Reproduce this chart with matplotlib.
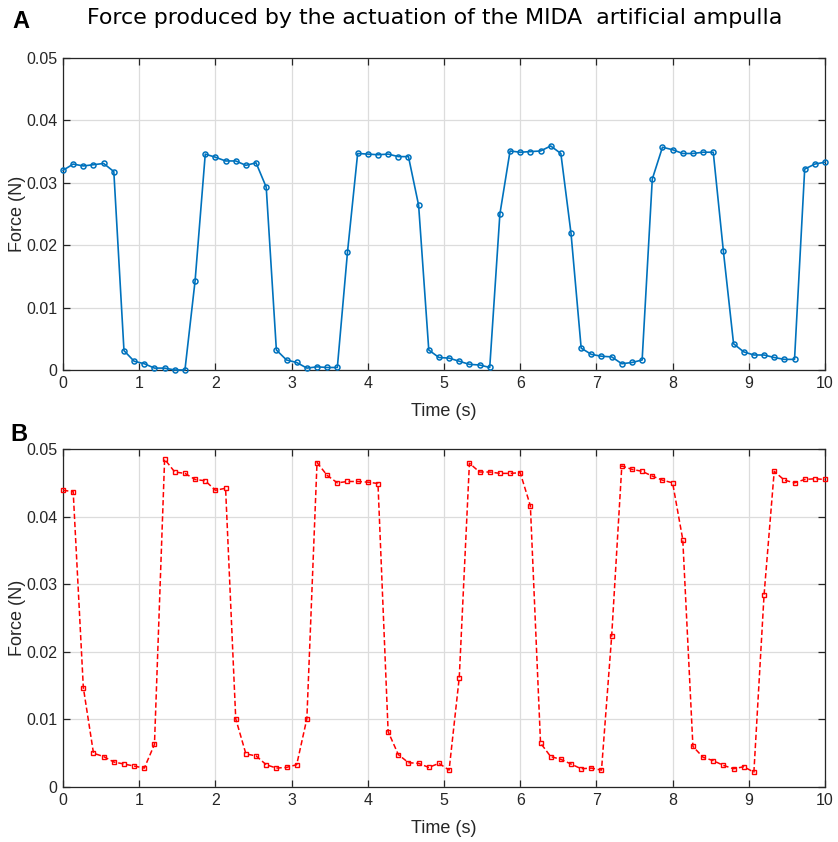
import numpy as np
import matplotlib
matplotlib.use("Agg")
import matplotlib.pyplot as plt

# muestreo uniforme, 76 muestras en 10 s
n_muestras = 76
duracion = 10.0
tiempo = np.linspace(0, duracion, n_muestras)

# panel A - fuerza (N)
fuerza_a = [
    0.0320, 0.0330, 0.0327, 0.0329, 0.0331, 0.0318, 0.0031, 0.0014, 0.0010, 0.0003,
    0.0003, 0.0000, 0.0000, 0.0143, 0.0346, 0.0341, 0.0335, 0.0335, 0.0328, 0.0332,
    0.0293, 0.0032, 0.0016, 0.0012, 0.0003, 0.0005, 0.0004, 0.0004, 0.0189, 0.0347,
    0.0346, 0.0345, 0.0346, 0.0342, 0.0342, 0.0264, 0.0032, 0.0020, 0.0019, 0.0014,
    0.0009, 0.0008, 0.0004, 0.0250, 0.0351, 0.0349, 0.0350, 0.0351, 0.0359, 0.0347,
    0.0219, 0.0035, 0.0025, 0.0022, 0.0021, 0.0010, 0.0012, 0.0016, 0.0306, 0.0357,
    0.0353, 0.0347, 0.0347, 0.0349, 0.0349, 0.0190, 0.0042, 0.0029, 0.0024, 0.0024,
    0.0020, 0.0017, 0.0017, 0.0322, 0.0330, 0.0333,
]

# panel B - fuerza (N)
fuerza_b = [
    0.0439, 0.0437, 0.0147, 0.0050, 0.0045, 0.0037, 0.0034, 0.0031, 0.0028, 0.0063,
    0.0485, 0.0466, 0.0464, 0.0455, 0.0453, 0.0439, 0.0442, 0.0101, 0.0049, 0.0046,
    0.0033, 0.0028, 0.0029, 0.0033, 0.0101, 0.0480, 0.0461, 0.0450, 0.0452, 0.0452,
    0.0451, 0.0449, 0.0082, 0.0048, 0.0036, 0.0035, 0.0029, 0.0035, 0.0025, 0.0162,
    0.0479, 0.0466, 0.0466, 0.0464, 0.0464, 0.0465, 0.0416, 0.0065, 0.0045, 0.0041,
    0.0034, 0.0027, 0.0028, 0.0025, 0.0223, 0.0475, 0.0470, 0.0467, 0.0460, 0.0454,
    0.0450, 0.0366, 0.0060, 0.0044, 0.0039, 0.0032, 0.0027, 0.0030, 0.0022, 0.0284,
    0.0467, 0.0454, 0.0450, 0.0455, 0.0456, 0.0455,
]

xticks = list(range(0, 11))
yticks = [0, 0.01, 0.02, 0.03, 0.04, 0.05]
ytick_labels = ['0', '0.01', '0.02', '0.03', '0.04', '0.05']

azul = '#0072BD'
rojo = '#FF0000'
gris_texto = '#262626'

plt.rcParams['font.family'] = ['Liberation Sans', 'DejaVu Sans']

fig = plt.figure(figsize=(8.38, 8.42), dpi=100)
ax1 = fig.add_axes([0.0752, 0.5606, 0.9093, 0.3705])
ax2 = fig.add_axes([0.0752, 0.0653, 0.9093, 0.4014])


def estilo(ax):
    ax.set_xlim(0, 10)
    ax.set_ylim(0, 0.05)
    ax.set_xticks(xticks)
    ax.set_yticks(yticks)
    ax.set_yticklabels(ytick_labels)
    ax.grid(True, color='#DCDCDC', linewidth=0.9)
    ax.set_axisbelow(True)
    ax.tick_params(direction='in', length=5, width=0.9, top=True, right=True,
                   labelsize=11.5, colors=gris_texto, pad=4)
    for lado in ax.spines.values():
        lado.set_color(gris_texto)
        lado.set_linewidth(0.9)
    ax.set_xlabel('Time (s)', fontsize=13, color=gris_texto, labelpad=9)
    ax.set_ylabel('Force (N)', fontsize=13, color=gris_texto, labelpad=0)


ax1.plot(tiempo, fuerza_a, color=azul, linewidth=1.2, marker='o', markersize=3.6,
         markerfacecolor='none', markeredgewidth=1.1, clip_on=False, zorder=3)
estilo(ax1)

ax2.plot(tiempo, fuerza_b, color=rojo, linewidth=1.1, linestyle=(0, (3.5, 1.8)),
         marker='s', markersize=3.2, markerfacecolor='none', markeredgewidth=1.0,
         clip_on=False, zorder=3)
estilo(ax2)

fig.text(435 / 838, 1 - 18 / 842, 'Force produced by the actuation of the MIDA  artificial ampulla',
         ha='center', va='center', fontsize=15.9, family='DejaVu Sans', color='black')
fig.text(12 / 838, 1 - 21 / 842, 'A', ha='left', va='center', fontsize=17, fontweight='bold')
fig.text(10 / 838, 1 - 434 / 842, 'B', ha='left', va='center', fontsize=17, fontweight='bold')

plt.savefig('out.png', dpi=100)
